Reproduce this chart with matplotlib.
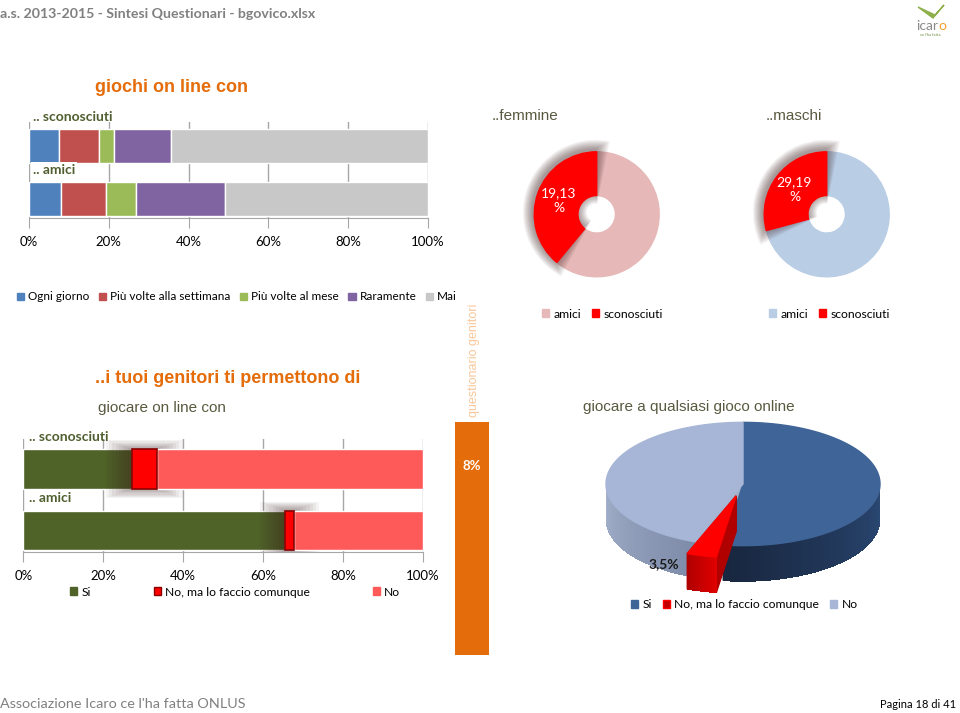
import numpy as np
import matplotlib
matplotlib.use('Agg')
import matplotlib.pyplot as plt
from matplotlib.patches import Patch, Polygon, Wedge

W, H = 960, 713
CAL = 'Lato'
ARIAL = 'Liberation Sans'

# --- data -------------------------------------------------------------
freq_labels = ['Ogni giorno', 'Più volte alla settimana', 'Più volte al mese', 'Raramente', 'Mai']
freq_colors = ['#4F81BD', '#C0504D', '#9BBB59', '#8064A2', '#C8C8C8']
games_groups = ['.. sconosciuti', '.. amici']
games_sconosciuti = [7.4, 10.2, 3.8, 14.3, 64.3]
games_amici = [7.9, 11.5, 7.3, 22.4, 50.9]

donut_labels = ['amici', 'sconosciuti']
femmine_values = [39.0, 61.0]      # sconosciuti, amici (as drawn)
femmine_text = '19,13\n%'
maschi_values = [29.19, 70.81]
maschi_text = '29,19\n%'

perm_labels = ['Si', 'No, ma lo faccio comunque', 'No']
perm_colors = ['#4F6228', '#FF0000', '#FF5A5A']
perm_groups = ['.. sconosciuti', '.. amici']
perm_sconosciuti = [27.1, 6.4, 66.5]
perm_amici = [65.6, 2.1, 32.3]

pie_labels = ['Si', 'No, ma lo faccio comunque', 'No']
pie_values = [52.3, 3.5, 44.2]
pie_explode = [0, 0.2, 0]
pie_text = '3,5%'

parent_value = 8

pct_ticks = [0, 20, 40, 60, 80, 100]

fig = plt.figure(figsize=(9.6, 7.13), dpi=100)


def px_axes(x0, y0, x1, y1):
    return fig.add_axes([x0 / W, 1 - y1 / H, (x1 - x0) / W, (y1 - y0) / H])


def fx(x):
    return x / W


def fy(y):
    return 1 - y / H


def style_pct_axis(ax):
    ax.set_xlim(0, 100)
    ax.set_xticks(pct_ticks)
    ax.set_xticklabels(['%d%%' % t for t in pct_ticks], fontfamily=CAL, fontsize=9.5)
    ax.xaxis.grid(True, color='#A6A6A6', lw=1)
    ax.set_axisbelow(True)
    ax.set_yticks([])
    for s in ['top', 'right', 'left']:
        ax.spines[s].set_visible(False)
    ax.spines['bottom'].set_color('#A6A6A6')
    ax.tick_params(axis='x', length=7, color='#A6A6A6', pad=6)


def square_legend(handles, labels, x, y, spacing, size=8.7):
    fig.legend(handles, labels, ncol=len(labels), loc='center left',
               bbox_to_anchor=(fx(x), fy(y)), frameon=False,
               prop={'family': CAL, 'size': size}, handlelength=0.6, handleheight=0.6,
               handletextpad=0.35, columnspacing=spacing, borderaxespad=0, borderpad=0)


# header / footer
fig.text(fx(0), fy(14), 'a.s. 2013-2015 - Sintesi Questionari - bgovico.xlsx',
         fontfamily=CAL, fontweight='bold', fontsize=10.2, color='#808080', va='center')
fig.text(fx(0), fy(704), "Associazione Icaro ce l'ha fatta ONLUS",
         fontfamily=CAL, fontsize=10.4, color='#808080', va='center')
fig.text(fx(956), fy(705), 'Pagina 18 di 41', fontfamily=CAL, fontsize=8,
         color='black', va='center', ha='right')
# logo
fig.text(fx(927), fy(26), 'icar', fontfamily=CAL, fontsize=10, color='#8A8A8A',
         ha='center', va='center')
fig.text(fx(942), fy(26), 'o', fontfamily=CAL, fontsize=10, color='#F0A030',
         ha='center', va='center')
fig.text(fx(930), fy(35), "ce l'ha fatta", fontfamily=CAL, fontsize=3,
         color='#6A8A3A', ha='center', va='center')
fig.patches.append(Polygon([(fx(918), fy(7)), (fx(933), fy(18)), (fx(944), fy(5)),
                            (fx(935), fy(15))], closed=True, transform=fig.transFigure,
                           color='#8DB04A'))

# --- top stacked bar: giochi on line con --------------------------------
fig.text(fx(95), fy(88), 'giochi on line con', fontfamily=ARIAL, fontweight='bold',
         fontsize=13, color='#E46C0A', va='center')
ax1 = px_axes(29, 122, 428, 218)
rows = [games_sconosciuti, games_amici]
lefts = np.zeros(2)
for i in range(len(freq_labels)):
    vals = np.array([r[i] for r in rows])
    ax1.barh([0, 1], vals, left=lefts, height=0.64, color=freq_colors[i],
             edgecolor='white', lw=1)
    lefts += vals
ax1.set_ylim(1.36, -0.45)
style_pct_axis(ax1)
for i, g in enumerate(games_groups):
    ax1.text(1, i - 0.55, g, fontfamily=CAL, fontweight='bold', fontsize=10,
             color='#4F5F2F', va='center', ha='left', clip_on=False,
             bbox=dict(facecolor='white', edgecolor='none', pad=1.5) if i else None)

square_legend([Patch(color=c) for c in freq_colors], freq_labels, 17, 297, 0.8, size=8.5)


# --- donuts ---------------------------------------------------------------
def donut(cx, cy, r_px, values, amici_color, label, title, title_x):
    ax = px_axes(cx - 1.3 * r_px, cy - 1.3 * r_px, cx + 1.3 * r_px, cy + 1.3 * r_px)
    ax.set_xlim(-1.3, 1.3)
    ax.set_ylim(-1.3, 1.3)
    ax.set_aspect('equal')
    ax.axis('off')
    frac = values[0] / sum(values)
    ang_end = 90 + 360 * frac
    ax.add_patch(Wedge((0, 0), 1, ang_end, 90 + 360, width=0.7, color=amici_color, zorder=1))
    for k in range(10):
        e = 0.016 * (k + 1)
        da = np.degrees(e / 0.8)
        ax.add_patch(Wedge((-0.02, 0.03), 1 + e, 90 - da, ang_end + da,
                           width=0.7 + 2 * e, color='#3A1A1A', alpha=0.055, lw=0, zorder=2))
    ax.add_patch(Wedge((0, 0), 1, 90, ang_end, width=0.7, color='#FF0000', zorder=3))
    mid = np.deg2rad(90 + 180 * frac)
    ax.text(0.65 * np.cos(mid), 0.65 * np.sin(mid), label, color='white', fontfamily=CAL,
            fontsize=10, ha='center', va='center', linespacing=1.3, zorder=4)
    fig.text(fx(title_x), fy(116), title, fontfamily=ARIAL, fontsize=11,
             color='#595940', va='center')


donut(596.7, 214.3, 62.5, femmine_values, '#E6B9B8', femmine_text, '..femmine', 492)
donut(826.7, 214.3, 62.5, maschi_values, '#B9CDE5', maschi_text, '..maschi', 766)
for x0, c in [(542, '#E6B9B8'), (769, '#B9CDE5')]:
    square_legend([Patch(color=c), Patch(color='#FF0000')], donut_labels, x0, 314, 0.9)

# --- permission stacked bar ------------------------------------------------
fig.text(fx(95), fy(378), '..i tuoi genitori ti permettono di', fontfamily=ARIAL,
         fontweight='bold', fontsize=13, color='#E46C0A', va='center')
fig.text(fx(98), fy(408), 'giocare on line con', fontfamily=ARIAL, fontsize=11,
         color='#595940', va='center')
ax2 = px_axes(23.3, 439, 422.7, 552)
rows = [perm_sconosciuti, perm_amici]
lefts = np.zeros(2)
for i in range(len(perm_labels)):
    vals = np.array([r[i] for r in rows])
    if i == 1:
        for k in range(8):
            e = 0.8 * (k + 1)
            ax2.barh([0, 1], vals + 2 * e, left=lefts - e, height=0.65 + e * 0.045,
                     color='#3A1A1A', alpha=0.055, lw=0, zorder=1.5)
        ax2.barh([0, 1], vals, left=lefts, height=0.65, color=perm_colors[i],
                 edgecolor='#8A0000', lw=1.2, zorder=3)
    else:
        ax2.barh([0, 1], vals, left=lefts, height=0.65, color=perm_colors[i],
                 edgecolor='white', lw=1, zorder=1 if i == 0 else 2)
    lefts += vals
ax2.set_ylim(1.35, -0.49)
style_pct_axis(ax2)
for i, g in enumerate(perm_groups):
    ax2.text(1.5, i - 0.53, g, fontfamily=CAL, fontweight='bold', fontsize=10,
             color='#4F5F2F', va='center', ha='left', clip_on=False, zorder=5,
             bbox=dict(facecolor='white', edgecolor='none', pad=1.5) if i else None)
square_legend([Patch(fc=c, ec='#8A0000' if j == 1 else c) for j, c in enumerate(perm_colors)],
              perm_labels, 70, 592, 5.2)

# --- orange parent bar ---------------------------------------------------
fig.text(fx(474), fy(360), 'questionario genitori', rotation=90, fontfamily=ARIAL,
         fontsize=9, color='#F9C79A', ha='center', va='center')
ax3 = px_axes(455, 422, 489, 655)
ax3.bar([0], [parent_value], width=1, color='#E46C0A')
ax3.set_xlim(-0.5, 0.5)
ax3.set_ylim(0, parent_value)
ax3.axis('off')
ax3.text(0, parent_value * 0.81, '%d%%' % parent_value, color='white', fontfamily=CAL,
         fontweight='bold', fontsize=9.5, ha='center', va='center')

# --- 3D pie ----------------------------------------------------------------
fig.text(fx(583), fy(407), 'giocare a qualsiasi gioco online', fontfamily=ARIAL,
         fontsize=11, color='#595940', va='center')
ax4 = px_axes(743 - 1.1 * 137, 418, 743 + 1.1 * 137, 600)
ax4.set_xlim(-1.1, 1.1)
ax4.set_ylim(-(600 - 484) / 137, (484 - 418) / 137)
ax4.set_aspect('equal')
ax4.axis('off')
a, b, depth = 1.0, 0.45, 0.26
fr = np.array(pie_values) / sum(pie_values)
bnd = np.concatenate([[0], np.cumsum(fr)]) * 2 * np.pi
top_cols = ['#3F6497', '#FF0000', '#A7B6D6']
side_cols = [('#2B4A76', '#18263E'), ('#E00000', '#B00000'), ('#7E8CAA', '#A3B0CA')]


def ell(t, dx, dy):
    return dx + a * np.sin(t), dy + b * np.cos(t)


def mix(c1, c2, f):
    c1 = np.array(matplotlib.colors.to_rgb(c1))
    c2 = np.array(matplotlib.colors.to_rgb(c2))
    return c1 + (c2 - c1) * f


def draw_slice(i, z):
    t0, t1 = bnd[i], bnd[i + 1]
    tm = (t0 + t1) / 2
    dx, dy = pie_explode[i] * a * np.sin(tm), pie_explode[i] * b * np.cos(tm)
    # cut faces
    for t in (t0, t1):
        x, y = ell(t, dx, dy)
        ax4.add_patch(Polygon([(dx, dy), (x, y), (x, y - depth), (dx, dy - depth)],
                              color=side_cols[i][1], zorder=z))
    # outer wall, drawn in thin overlapping strips for a gradient
    lo, hi = max(t0, np.pi / 2), min(t1, 3 * np.pi / 2)
    if hi > lo:
        ts = np.linspace(lo, hi, 80)
        for j in range(len(ts) - 1):
            t_hi = min(ts[j + 1] + 0.01, hi)
            xa, ya = ell(ts[j], dx, dy)
            xb, yb = ell(t_hi, dx, dy)
            f = (ts[j] - lo) / max(hi - lo, 1e-6)
            ax4.add_patch(Polygon([(xa, ya), (xb, yb), (xb, yb - depth), (xa, ya - depth)],
                                  fc=mix(side_cols[i][0], side_cols[i][1], f), lw=0,
                                  antialiased=False, zorder=z + 0.1))
    ts = np.linspace(t0, t1, 120)
    xs, ys = ell(ts, dx, dy)
    ax4.add_patch(Polygon([(dx, dy)] + list(zip(xs, ys)), color=top_cols[i], zorder=z + 0.2))
    return dx, dy


draw_slice(0, 1)
draw_slice(2, 1)
dx, dy = draw_slice(1, 3)
cx, cy = ell(bnd[2], dx, dy)
ax4.text(cx - 0.06, cy - 0.08, pie_text, fontfamily=CAL, fontweight='bold', fontsize=10,
         color='#1A1A1A', ha='right', va='center', zorder=5)
square_legend([Patch(color='#3F6497'), Patch(fc='#C00000', ec='#FF0000'), Patch(color='#A7B6D6')],
              pie_labels, 631, 605, 0.9)

fig.savefig('out.png', dpi=100)
